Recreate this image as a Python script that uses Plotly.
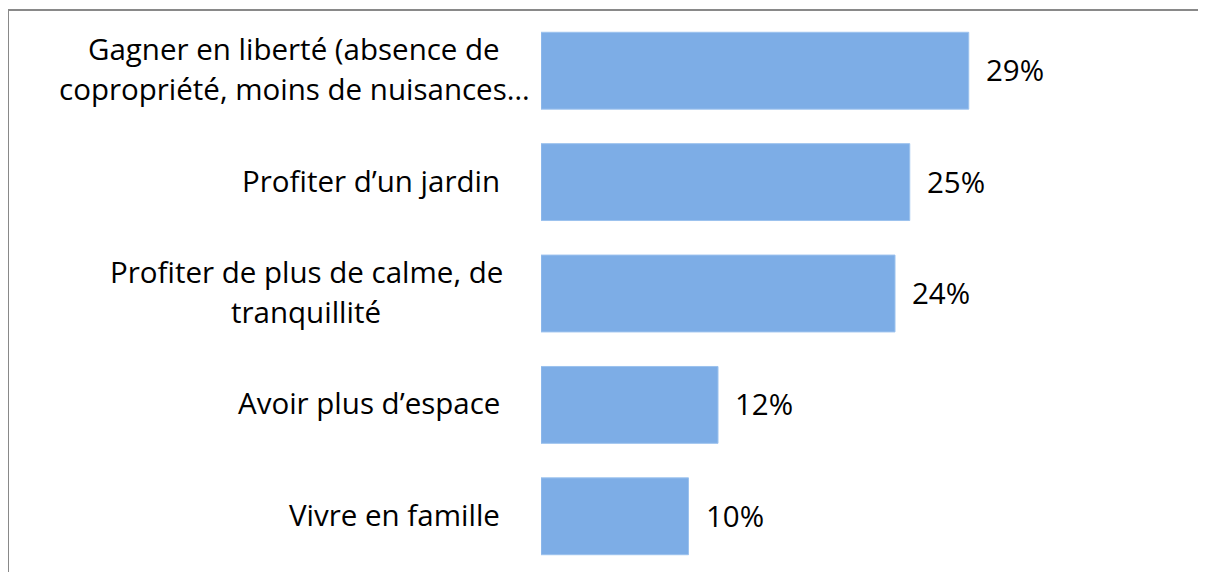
import plotly.graph_objects as go

categories = [
    "Gagner en liberté (absence de<br>copropriété, moins de nuisances…",
    "Profiter d’un jardin",
    "Profiter de plus de calme, de<br>tranquillité",
    "Avoir plus d’espace",
    "Vivre en famille",
]
values = [29, 25, 24, 12, 10]
value_labels = ["29%", "25%", "24%", "12%", "10%"]

# label placement (window pixels): anchor mode and x position
label_anchor = [("center", 294), ("right", 502), ("center", 306), ("right", 502), ("right", 502)]

OFF = 8                      # page body margin in browser
WIN_W, WIN_H = 1206, 572
W, H = WIN_W - OFF, WIN_H - OFF
L_win, T_win = 541, 15
L, T = L_win - OFF, T_win - OFF
plot_w = W - L
plot_h = H - T
px_per_unit = 14.75
xmax = plot_w / px_per_unit

FONT = "Open Sans"
FS = 29.5
BAR = "#7DADE6"
LINE_GAP = 40

fig = go.Figure(go.Bar(
    y=list(range(len(categories))),
    x=values,
    orientation="h",
    width=0.69,
    marker=dict(color=BAR, line=dict(color="#9CC2EE", width=1)),
    hoverinfo="skip",
))

annotations = []
for i, (cat, v, vl, (anc, xp)) in enumerate(zip(categories, values, value_labels, label_anchor)):
    lines = cat.split("<br>")
    n = len(lines)
    for k, line in enumerate(lines):
        ys = 2 + ((n - 1) / 2 - k) * LINE_GAP
        annotations.append(dict(
            x=0, y=i, xref="x", yref="y", text=line, showarrow=False,
            xanchor=anc, yanchor="middle", align="center",
            xshift=xp - L_win, yshift=ys,
            font=dict(family=FONT, size=FS, color="#000000"),
        ))
    annotations.append(dict(
        x=v, y=i, xref="x", yref="y", text=vl, showarrow=False,
        xanchor="left", yanchor="middle", xshift=15, yshift=1,
        font=dict(family=FONT, size=FS, color="#000000"),
    ))

def px_x(p):
    return (p - OFF - L) / plot_w

def px_y(p):
    return (H - (p - OFF)) / plot_h

shapes = [
    dict(type="line", xref="paper", yref="paper",
         x0=px_x(7), x1=px_x(WIN_W + 5), y0=px_y(10), y1=px_y(10),
         line=dict(color="#898989", width=2)),
    dict(type="line", xref="paper", yref="paper",
         x0=px_x(8), x1=px_x(8), y0=px_y(9), y1=px_y(WIN_H + 5),
         line=dict(color="#898989", width=2)),
]

fig.update_layout(
    width=W, height=H,
    margin=dict(l=L, r=0, t=T, b=0),
    paper_bgcolor="white", plot_bgcolor="white",
    showlegend=False,
    annotations=annotations,
    shapes=shapes,
    xaxis=dict(range=[0, xmax], visible=False, fixedrange=True),
    yaxis=dict(range=[len(categories) - 0.5, -0.5], visible=False, fixedrange=True),
    font=dict(family=FONT),
)

fig.write_html("out.html")
